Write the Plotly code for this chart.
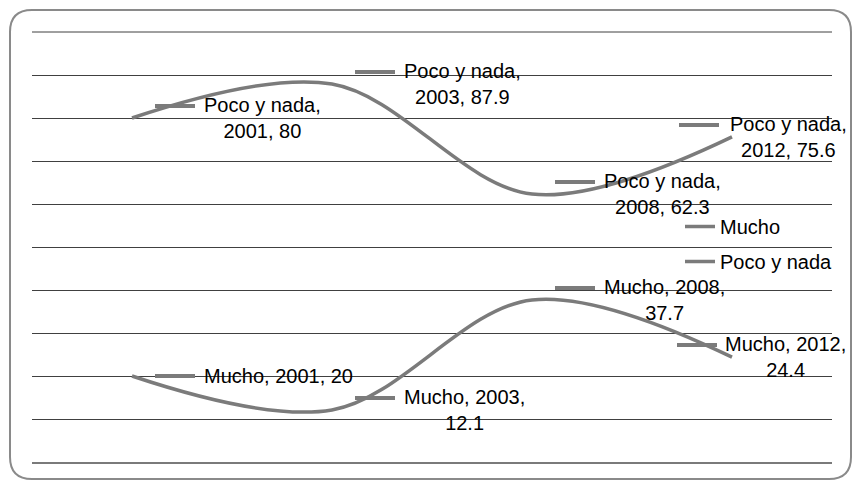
import plotly.graph_objects as go

# data
years = ["2001", "2003", "2008", "2012"]
mucho = [20, 12.1, 37.7, 24.4]
poco_y_nada = [80, 87.9, 62.3, 75.6]

LINE_COLOR = "#7b7b7b"
GRID_COLOR = "#404040"
FONT = dict(family="Liberation Sans, Arial, sans-serif", size=20, color="#000000")

W, H = 853, 481
M = dict(l=32, r=21, t=32, b=19)
PW = W - M["l"] - M["r"]
PH = H - M["t"] - M["b"]


def px_to_paper(x, y):
    """Convert a pixel position in the page to paper coordinates."""
    return (x - M["l"]) / PW, (H - M["b"] - y) / PH


def rounded_rect(x0, y0, x1, y1, r):
    """SVG path (paper coords) for the rounded chart frame."""
    def p(x, y):
        a, b = px_to_paper(x, y)
        return f"{a:.5f},{b:.5f}"
    return " ".join([
        f"M{p(x0 + r, y0)}", f"L{p(x1 - r, y0)}", f"Q{p(x1, y0)} {p(x1, y0 + r)}",
        f"L{p(x1, y1 - r)}", f"Q{p(x1, y1)} {p(x1 - r, y1)}",
        f"L{p(x0 + r, y1)}", f"Q{p(x0, y1)} {p(x0, y1 - r)}",
        f"L{p(x0, y0 + r)}", f"Q{p(x0, y0)} {p(x0 + r, y0)} Z",
    ])


fig = go.Figure()
fig.add_trace(go.Scatter(x=years, y=mucho, name="Mucho", mode="lines",
                         line=dict(color=LINE_COLOR, width=3.5, shape="spline", smoothing=1),
                         legendgroup="a"))
fig.add_trace(go.Scatter(x=years, y=poco_y_nada, name="Poco y nada", mode="lines",
                         line=dict(color=LINE_COLOR, width=3.5, shape="spline", smoothing=1),
                         legendgroup="b"))


def label_text(name, yr, v):
    # Excel wraps the labels differently for each series
    if name == "Mucho":
        if yr == years[0]:
            return f"{name}, {yr}, {v:g}"
        return f"{name}, {yr},<br>{v:g}"
    return f"{name},<br>{yr}, {v:g}"


# data labels with a legend key in front, Excel style
for name, vals in [("Poco y nada", poco_y_nada), ("Mucho", mucho)]:
    for i, (yr, v) in enumerate(zip(years, vals)):
        txt = label_text(name, yr, v)
        key_dy = 12 if "<br>" in txt else 0
        if i == len(years) - 1:
            # last labels are pushed to the left of the point
            if name == "Mucho":
                kx0, kx1, tx = -55, -15, -9
            else:
                kx0, kx1, tx = -53, -13, -4
        else:
            kx0, kx1, tx = 23, 63, 70
        fig.add_shape(type="line", xref="x", yref="y",
                      xsizemode="pixel", ysizemode="pixel",
                      xanchor=i, yanchor=v,
                      x0=kx0, x1=kx1, y0=key_dy, y1=key_dy,
                      line=dict(color=LINE_COLOR, width=4))
        fig.add_annotation(x=i, y=v, text=txt, showarrow=False,
                           xanchor="left", yanchor="middle", align="center",
                           xshift=tx, font=FONT)

# top gridline sits on the plot edge, plotly drops it, so draw it here
fig.add_shape(type="line", xref="paper", yref="paper", x0=0, x1=1, y0=1, y1=1,
              line=dict(color=GRID_COLOR, width=1), layer="below")

fig.add_shape(type="path", xref="paper", yref="paper",
              path=rounded_rect(10, 10, 851, 479, 22),
              line=dict(color="#8a8a8a", width=2), layer="above")

fig.update_layout(
    width=W, height=H,
    margin=M,
    paper_bgcolor="white", plot_bgcolor="white",
    font=FONT,
    showlegend=True,
    legend=dict(x=0.81, y=0.593, xanchor="left", yanchor="top",
                bgcolor="rgba(0,0,0,0)", tracegroupgap=6,
                font=FONT, itemwidth=30),
)
fig.update_xaxes(type="category", categoryorder="array", categoryarray=years,
                 range=[-0.5, 3.5], showticklabels=False, showgrid=False,
                 zeroline=False, showline=True, linecolor="#7a7a7a", linewidth=2)
fig.update_yaxes(range=[0, 100], dtick=10, showticklabels=False,
                 showgrid=True, gridcolor=GRID_COLOR, gridwidth=1, zeroline=False,
                 showline=False)

fig.write_html("out.html", config={"displayModeBar": False},
               post_script="document.body.style.margin='0px';")
